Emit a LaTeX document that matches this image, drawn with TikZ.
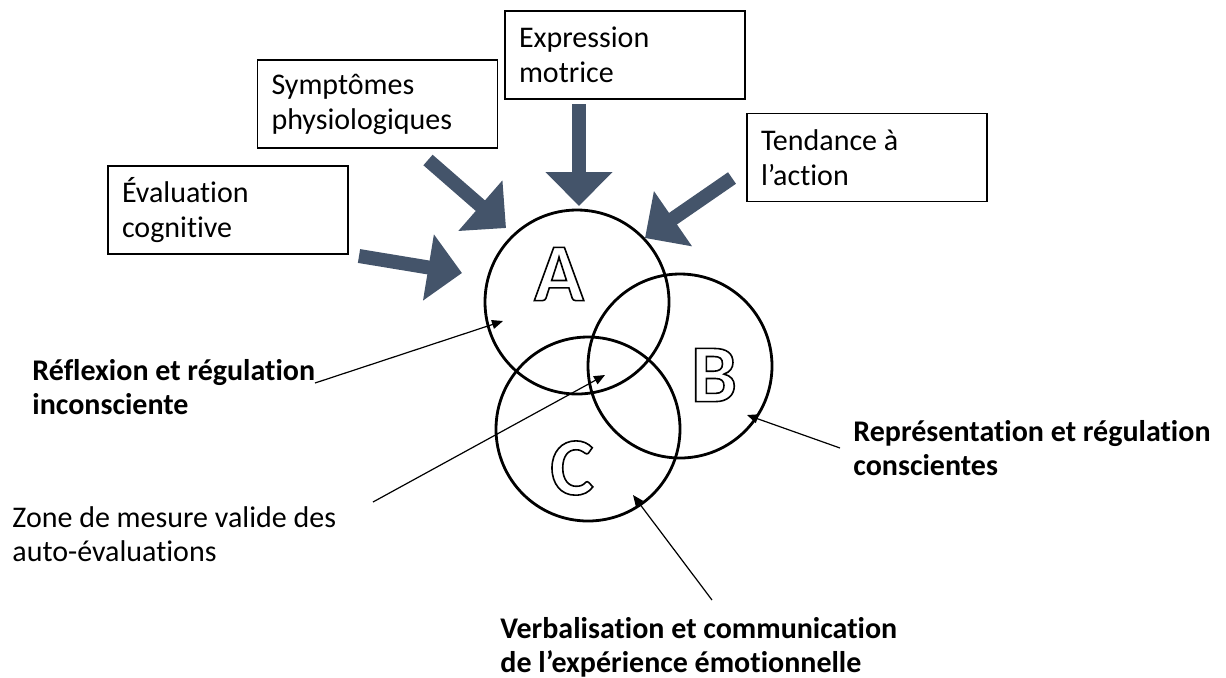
\documentclass[tikz,border=0pt]{standalone}
\usepackage{fontspec}
\setmainfont[Ligatures=NoCommon]{Carlito}
\usetikzlibrary{arrows.meta}
\definecolor{slate}{RGB}{68,84,106}
\newcommand{\outlinedletter}[1]{\special{pdf:literal direct 2 Tr 0.8 w 0 0 0 RG}#1\special{pdf:literal direct 0 Tr}}
\begin{document}
\begin{tikzpicture}[x=0.5pt,y=-0.5pt,
  box/.style={draw, line width=0.8pt, text width=106pt, inner xsep=7pt, inner ysep=0pt,
    minimum height=44pt, align=left, font=\fontsize{15}{17.5}\selectfont},
  lbl/.style={align=left, inner sep=0pt, anchor=west, font=\fontsize{15}{17}\selectfont},
  blbl/.style={lbl, font=\fontsize{15}{17}\selectfont\bfseries},
  ring/.style={draw, circle, line width=1.4pt, minimum size=92pt, inner sep=0pt},
  letter/.style={inner sep=0pt, text=white, font=\fontsize{41}{41}\selectfont\bfseries},
  bigarrow/.style={draw=slate, line width=7pt, -{Triangle[width=32.5pt,length=17pt]}},
  conn/.style={line width=0.6pt, -{Triangle[width=4.5pt,length=5.5pt]}}
]
\useasboundingbox (0,0) rectangle (1226,677);

% boxes
\node[box] (eval) at (228,210) {Évaluation\\cognitive};
\node[box] (symp) at (377.5,104) {Symptômes\\physiologiques};
\node[box] (expr) at (625,55) {Expression\\motrice};
\node[box] (tend) at (867,157.5) {\spaceskip=0pt\relax Tendance à\\l’action};

% circles
\node[ring] (cA) at (577,302) {};
\node[ring] (cB) at (680,366) {};
\node[ring] (cC) at (588,429) {};

% letters
\node[letter] (lA) at (559,274) {\outlinedletter{A}};
\node[letter] (lB) at (714,375) {\outlinedletter{B}};
\node[letter] (lC) at (572,468) {\outlinedletter{C}};

% big arrows
\coordinate (t1) at (359,256); \coordinate (h1) at (462,273);
\coordinate (t2) at (428,160); \coordinate (h2) at (506,228);
\coordinate (t3) at (579,104); \coordinate (h3) at (579,206);
\coordinate (t4) at (732,178); \coordinate (h4) at (645,238);
\draw[bigarrow] (t1) -- (h1);
\draw[bigarrow] (t2) -- (h2);
\draw[bigarrow] (t3) -- (h3);
\draw[bigarrow] (t4) -- (h4);

% labels
\node[blbl] (refl) at (32,387) {Réflexion et régulation\\inconsciente};
\node[lbl] (zone) at (12,534) {Zone de mesure valide des\\auto-évaluations};
\node[blbl] (repr) at (853,448) {Représentation et régulation\\conscientes};
\node[blbl] (verb) at (500,647) {Verbalisation et communication\\de l’expérience émotionnelle};

% connectors
\coordinate (s1) at (315,383); \coordinate (e1) at (503,321);
\coordinate (s2) at (373,502); \coordinate (e2) at (605,375);
\coordinate (s3) at (840,448); \coordinate (e3) at (747,415);
\coordinate (s4) at (712,600); \coordinate (e4) at (633,495);
\draw[conn] (s1) -- (e1);
\draw[conn] (s2) -- (e2);
\draw[conn] (s3) -- (e3);
\draw[conn] (s4) -- (e4);
\end{tikzpicture}
\end{document}
